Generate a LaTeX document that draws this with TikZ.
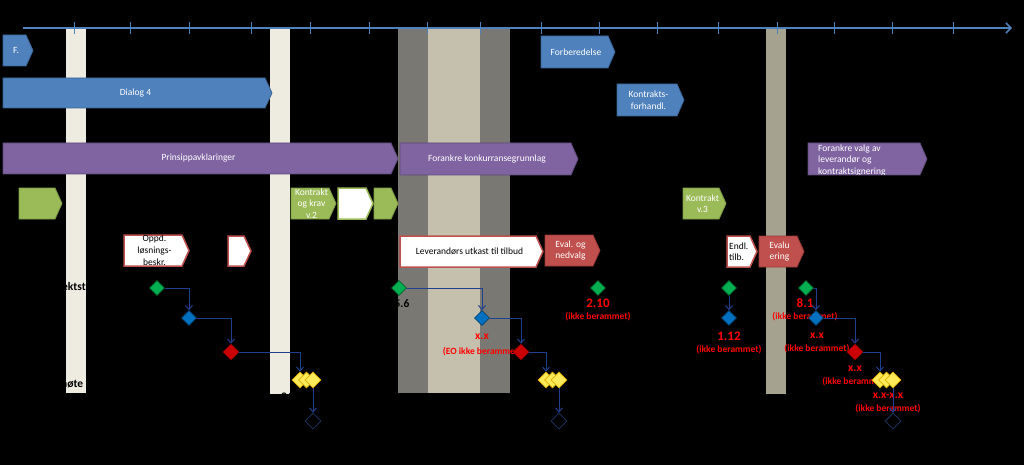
\documentclass[tikz,border=0pt]{standalone}
\usepackage{fontspec}
\setmainfont{Carlito}
\usetikzlibrary{shapes.geometric,arrows.meta}
\definecolor{axisblue}{HTML}{4F81BD}
\definecolor{cream}{HTML}{EEECE1}
\definecolor{dkband}{HTML}{7A7872}
\definecolor{ltband}{HTML}{C5C0AD}
\definecolor{khband}{HTML}{A5A290}
\definecolor{pblue}{HTML}{4F81BD}
\definecolor{pbluedk}{HTML}{3B6596}
\definecolor{ppurple}{HTML}{8064A2}
\definecolor{ppurpledk}{HTML}{5E4A7A}
\definecolor{pgreen}{HTML}{9BBB59}
\definecolor{pgreendk}{HTML}{7D9A44}
\definecolor{pred}{HTML}{C0504D}
\definecolor{preddk}{HTML}{9A3A38}
\definecolor{msgreen}{HTML}{00B050}
\definecolor{msblue}{HTML}{0070C0}
\definecolor{msred}{HTML}{CC0000}
\definecolor{msyellow}{HTML}{FFEB5A}
\definecolor{msyellowdk}{HTML}{E0B000}
\definecolor{navy}{HTML}{1F3F8F}
\definecolor{navydk}{HTML}{1F3864}
\definecolor{lblred}{HTML}{FF0000}
\newcommand\hpbox[8]{%
  \draw[#2] (#4,#5) -- ({#6-7},#5) -- (#6,{(#5+#7)/2}) -- ({#6-7},#7) -- (#4,#7) -- cycle;
  \begin{scope}
    \clip (#4,#5) -- ({#6-7},#5) -- (#6,{(#5+#7)/2}) -- ({#6-7},#7) -- (#4,#7) -- cycle;
    \node[#3] (#1) at ({(#4+#6-4)/2},{(#5+#7)/2}) {#8};
  \end{scope}}
\tikzset{
  boxtxt/.style={inner sep=0pt, font=\fontsize{9.5}{11.5}\selectfont, align=center},
  wtxt/.style={boxtxt, text=white},
  ktxt/.style={boxtxt, text=black},
  blueshape/.style={fill=pblue, draw=pbluedk, line width=0.8pt},
  purpleshape/.style={fill=ppurple, draw=ppurpledk, line width=0.8pt},
  greenshape/.style={fill=pgreen, draw=pgreendk, line width=0.8pt},
  greenwhite/.style={fill=white, draw=pgreen, line width=1.5pt},
  redwhite/.style={fill=white, draw=pred, line width=1.5pt},
  redshape/.style={fill=pred, draw=preddk, line width=0.8pt},
  ms/.style={diamond, inner sep=0pt, minimum width=15pt, minimum height=15pt, line width=0.6pt},
  gms/.style={ms, fill=msgreen, draw=msgreen!60!black},
  bms/.style={ms, fill=msblue, draw=msblue!60!black},
  rms/.style={ms, fill=msred, draw=msred!70!black, minimum width=16pt, minimum height=16pt},
  yms/.style={ms, fill=msyellow, draw=msyellowdk, minimum width=16pt, minimum height=16pt},
  oms/.style={ms, draw=navydk, line width=0.8pt, minimum width=16pt, minimum height=16pt},
  conn/.style={draw=navy, line width=1pt, -{Straight Barb[length=4pt,width=7pt]}},
  rnum/.style={text=lblred, inner sep=0pt, font=\bfseries\fontsize{13}{15}\selectfont},
  rxx/.style={text=lblred, inner sep=0pt, font=\bfseries\fontsize{11.5}{13}\selectfont},
  rsmall/.style={text=lblred, inner sep=0pt, font=\bfseries\fontsize{9.5}{11}\selectfont},
  blk/.style={text=black, inner sep=0pt, font=\bfseries\fontsize{11.5}{13}\selectfont},
}
\begin{document}
\begin{tikzpicture}[x=1pt,y=-1pt]
\useasboundingbox (0,0) rectangle (1024,465);
\fill[black] (0,0) rectangle (1024,465);
% vertical bands
\fill[cream] (66,29) rectangle (86,393);
\fill[cream] (270,29) rectangle (290,394);
\fill[dkband] (398,29) rectangle (510,393);
\fill[ltband] (428,29) rectangle (480,393);
\fill[khband] (766,29) rectangle (786,394);
% time axis
\coordinate (axs) at (23,28);
\coordinate (axe) at (1012,28);
\draw[axisblue, line width=1.6pt, -{Straight Barb[length=5pt,width=10pt]}] (axs) -- (axe);
\foreach \t in {74,130,189,251,310,369,427,480,541,599,657,718,777,834,892,953}
  \draw[axisblue, line width=1pt] (\t,22) -- (\t,34);
% blue
\hpbox{bF}{blueshape}{wtxt}{3}{35}{33}{66}{F.}
\hpbox{bDialog}{blueshape}{wtxt}{3}{78}{272}{108}{Dialog 4}
\hpbox{bForb}{blueshape}{wtxt}{541}{36}{615}{68}{Forberedelse}
\hpbox{bKforh}{blueshape}{wtxt}{617}{84}{684}{116}{Kontrakts-\\forhandl.}
% purple
\hpbox{pPrins}{purpleshape}{wtxt}{3}{143}{398}{174}{Prinsippavklaringer}
\hpbox{pForank}{purpleshape}{wtxt}{400}{143}{578}{175}{Forankre konkurransegrunnlag}
\hpbox{pValg}{purpleshape}{wtxt,align=left,anchor=west,xshift=-47.5pt,yshift=-1.5pt}{808}{143}{927}{175}{Forankre valg av\\leverandør og\\kontraktsignering}
% green
\hpbox{g1}{greenshape}{wtxt}{19}{188}{62}{219}{}
\hpbox{gK2}{greenshape}{wtxt}{291}{188}{336}{219}{Kontrakt\\og krav\\v.2}
\hpbox{gW}{greenwhite}{ktxt}{338}{188}{373}{219}{}
\hpbox{g3}{greenshape}{wtxt}{374}{188}{398}{219}{}
\hpbox{gK3}{greenshape}{wtxt}{683}{188}{726}{219}{Kontrakt\\v.3}
% red / white
\hpbox{rOppd}{redwhite}{ktxt,font=\fontsize{9.5}{12}\selectfont}{124}{235}{189}{266}{Oppd.\\løsnings-\\beskr.}
\hpbox{rW}{redwhite}{ktxt}{228}{236}{251}{266}{}
\hpbox{rLev}{redwhite}{ktxt}{400}{236}{543}{267}{Leverandørs utkast til tilbud}
\hpbox{rEval}{redshape}{wtxt}{545}{235}{600}{266}{Eval. og\\nedvalg}
\hpbox{rEndl}{redwhite}{ktxt,align=left,anchor=west,xshift=-11pt}{727}{236}{757}{267}{Endl.\\tilb.}
\hpbox{rEvalu}{redshape}{wtxt}{759}{236}{804}{267}{Evalu\\ering}
% black labels (partly hidden)
\node[blk, anchor=west] (lA) at (62,287) {ektst};
\node[blk, anchor=west] (lB) at (62,318) {:};
\node[blk, anchor=west] (lC) at (61,384) {nøte};
\node[blk] (l26) at (287,397) {26};
\node[blk] (l56) at (402,304) {5.6};
% red labels
\node[rxx] (t1) at (482,337) {x.x};
\node[rsmall] (t1b) at (482,352) {(EO ikke berammet)};
\node[rnum] (t2) at (598,303) {2.10};
\node[rsmall] (t2b) at (598,317) {(ikke berammet)};
\node[rnum] (t3) at (729,336) {1.12};
\node[rsmall] (t3b) at (729,350) {(ikke berammet)};
\node[rnum] (t4) at (805,303) {8.1};
\node[rsmall] (t4b) at (805,317) {(ikke berammet)};
\node[rxx] (t5) at (817,336) {x.x};
\node[rsmall] (t5b) at (817,349) {(ikke berammet)};
\node[rxx] (t6) at (855,369) {x.x};
\node[rsmall] (t6b) at (855,382) {(ikke berammet)};
\node[rxx] (t7) at (888,396) {x.x-x.x};
\node[rsmall] (t7b) at (888,409) {(ikke berammet)};
% milestones
\node[gms] (G1) at (157,288) {};
\node[gms] (G2) at (399,288) {};
\node[gms] (G3) at (598,288) {};
\node[gms] (G4) at (729,288) {};
\node[gms] (G5) at (806,288) {};
\node[bms] (B1) at (189,318) {};
\node[bms] (B2) at (482,318) {};
\node[bms] (B3) at (729,318) {};
\node[bms] (B4) at (816,318) {};
\node[rms] (R1) at (231,352) {};
\node[rms] (R2) at (521,352) {};
\node[rms] (R3) at (855,352) {};
\node[yms] (Y1a) at (300,380) {};
\node[yms] (Y1b) at (306.5,380) {};
\node[yms] (Y1c) at (313,380) {};
\node[yms] (Y2a) at (546,380) {};
\node[yms] (Y2b) at (552.5,380) {};
\node[yms] (Y2c) at (559,380) {};
\node[yms] (Y3a) at (880,380) {};
\node[yms] (Y3b) at (886.5,380) {};
\node[yms] (Y3c) at (893,380) {};
\node[oms] (O1) at (313,421) {};
\node[oms] (O2) at (559,421) {};
\node[oms] (O3) at (893,421) {};
% connectors
\draw[conn] (G1.east) -| (B1.north);
\draw[conn] (B1.east) -| (R1.north);
\draw[conn] (R1.east) -| (Y1a.north);
\draw[conn] (Y1c.south) -- (O1.north);
\draw[conn] (G2.east) -| (B2.north);
\draw[conn] (B2.east) -| (R2.north);
\draw[conn] (R2.east) -| (Y2a.north);
\draw[conn] (Y2c.south) -- (O2.north);
\draw[conn] (G4.south) -- (B3.north);
\draw[conn] (G5.east) -| (B4.north);
\draw[conn] (B4.east) -| (R3.north);
\draw[conn] (R3.east) -| (Y3a.north);
\draw[conn] (Y3c.south) -- (O3.north);
\end{tikzpicture}
\end{document}
